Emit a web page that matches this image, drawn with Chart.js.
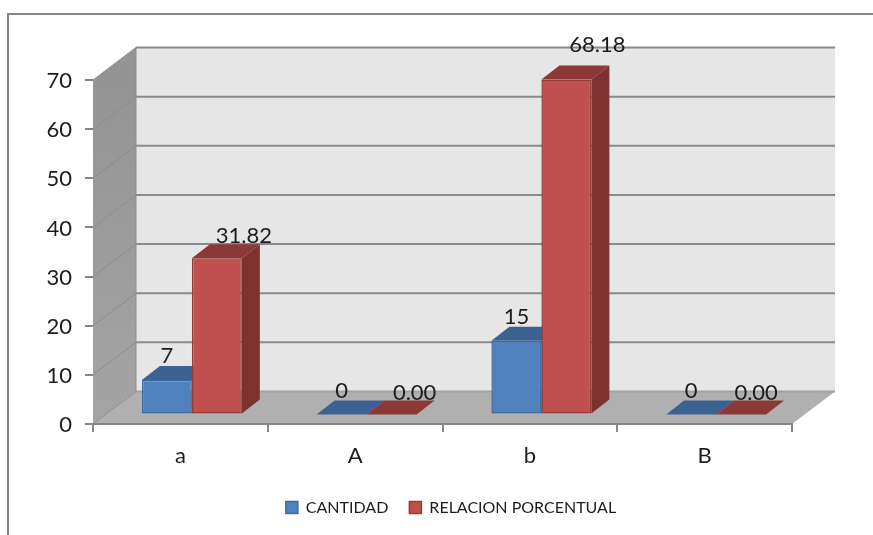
<!DOCTYPE html>
<html>
<head>
<meta charset="utf-8">
<title>Cantidad y relacion porcentual</title>
<script src="https://cdn.jsdelivr.net/npm/chart.js@4"></script>
<style>
  html, body { margin: 0; padding: 0; background: #fff; }
  canvas { display: block; }
</style>
</head>
<body>
<canvas id="chart" width="873" height="535"></canvas>
<script>
const categories = ['a', 'A', 'b', 'B'];
const cantidad = [7, 0, 15, 0];
const relacionPorcentual = [31.82, 0, 68.18, 0];
const yTicks = [0, 10, 20, 30, 40, 50, 60, 70];

const FONT = 'Lato, sans-serif';
const TEXT = '#1c1c1c';
const LINE = '#8a8a8a';

// depth of the box the bars stand in, and of the bars themselves
const WALL_DX = 43, WALL_DY = -32.5;
const BAR_SHIFT_X = 11.5, BAR_SHIFT_Y = -9.5;
const BAR_DX = 18, BAR_DY = -14;

const faces = [
  { top: '#3c6291', side: '#3a5f8e' },
  { top: '#8c3836', side: '#7d3230' }
];

// where each dataset's value text sits relative to the bar's top
const labelOffsets = [
  { dx: [0, 0, 0, 0], dy: [-24, -24, -24, -24], fmt: v => String(v) },
  { dx: [27, 23, 31, 15], dy: [-22, -22, -35, -22], fmt: v => v.toFixed(2) }
];

function poly(ctx, pts, fill) {
  ctx.beginPath();
  pts.forEach((p, i) => i ? ctx.lineTo(p[0], p[1]) : ctx.moveTo(p[0], p[1]));
  ctx.closePath();
  ctx.fillStyle = fill;
  ctx.fill();
}

function seg(ctx, x1, y1, x2, y2, color, width) {
  ctx.beginPath();
  ctx.moveTo(x1, y1);
  ctx.lineTo(x2, y2);
  ctx.strokeStyle = color;
  ctx.lineWidth = width;
  ctx.stroke();
}

const box3d = {
  id: 'box3d',
  afterLayout(chart) {
    // legend row is centred on its own spot under the axis labels
    const lg = chart.legend;
    const shift = 451 - (lg.left + lg.right) / 2;
    lg.left += shift;
    lg.right += shift;
    const h = lg.bottom - lg.top;
    lg.top = 502 - h / 2;
    lg.bottom = lg.top + h;
  },
  beforeDraw(chart) {
    const ctx = chart.ctx;
    const { x, y } = chart.scales;
    const l = x.left, r = x.right;
    const y0 = y.getPixelForValue(0), yMax = y.getPixelForValue(70);

    ctx.save();
    // outer frame, open on the right and bottom
    seg(ctx, 8, 14, 873, 14, '#868686', 2);
    seg(ctx, 8, 13, 8, 535, '#868686', 2);

    const grad = ctx.createLinearGradient(0, yMax, 0, y0);
    grad.addColorStop(0, '#949494');
    grad.addColorStop(1, '#a4a4a4');
    poly(ctx, [[l, yMax], [l + WALL_DX, yMax + WALL_DY], [l + WALL_DX, y0 + WALL_DY], [l, y0]], grad);
    poly(ctx, [[l + WALL_DX, yMax + WALL_DY], [r + WALL_DX, yMax + WALL_DY], [r + WALL_DX, y0 + WALL_DY], [l + WALL_DX, y0 + WALL_DY]], '#e6e6e6');
    poly(ctx, [[l, y0], [r, y0], [r + WALL_DX, y0 + WALL_DY], [l + WALL_DX, y0 + WALL_DY]], '#b0b0b0');

    yTicks.forEach(v => {
      const py = y.getPixelForValue(v);
      seg(ctx, l, py, l + WALL_DX, py + WALL_DY, '#8c8c8c', 1);
      if (v > 0) seg(ctx, l + WALL_DX, py + WALL_DY, r + WALL_DX, py + WALL_DY, LINE, 2);
    });
    seg(ctx, l + WALL_DX, y0 + WALL_DY, r + WALL_DX, y0 + WALL_DY, '#a2a2a2', 2);
    seg(ctx, l + WALL_DX, yMax + WALL_DY, l + WALL_DX, y0 + WALL_DY, '#8c8c8c', 1);
    ctx.restore();
  },
  beforeDatasetsDraw(chart) {
    // tops and sides go down first so the bar fronts cover them
    const ctx = chart.ctx;
    chart.data.datasets.forEach((ds, i) => {
      chart.getDatasetMeta(i).data.forEach(bar => {
        const p = bar.getProps(['x', 'y', 'base', 'width']);
        const x1 = p.x - p.width / 2 + BAR_SHIFT_X, x2 = x1 + p.width;
        const top = p.y + BAR_SHIFT_Y, base = p.base + BAR_SHIFT_Y;
        poly(ctx, [[x1, top], [x2, top], [x2 + BAR_DX, top + BAR_DY], [x1 + BAR_DX, top + BAR_DY]], faces[i].top);
        if (base - top > 0) {
          poly(ctx, [[x2, top], [x2 + BAR_DX, top + BAR_DY], [x2 + BAR_DX, base + BAR_DY], [x2, base]], faces[i].side);
        }
      });
    });
  },
  beforeDatasetDraw(chart) {
    chart.ctx.save();
    chart.ctx.translate(BAR_SHIFT_X, BAR_SHIFT_Y);
  },
  afterDatasetDraw(chart) {
    chart.ctx.restore();
  },
  afterDatasetsDraw(chart) {
    const ctx = chart.ctx;
    ctx.save();
    ctx.font = '22px ' + FONT;
    ctx.fillStyle = TEXT;
    ctx.textAlign = 'center';
    ctx.textBaseline = 'middle';
    chart.data.datasets.forEach((ds, i) => {
      const off = labelOffsets[i];
      chart.getDatasetMeta(i).data.forEach((bar, j) => {
        const p = bar.getProps(['x', 'y']);
        ctx.fillText(off.fmt(ds.data[j]), p.x + BAR_SHIFT_X + off.dx[j], p.y + BAR_SHIFT_Y + off.dy[j]);
      });
    });
    ctx.restore();
  }
};

new Chart(document.getElementById('chart'), {
  type: 'bar',
  data: {
    labels: categories,
    datasets: [
      { label: 'CANTIDAD', data: cantidad, backgroundColor: '#4f81bd', borderColor: '#3f6a9f', borderWidth: 1.5, borderSkipped: false },
      { label: 'RELACION PORCENTUAL', data: relacionPorcentual, backgroundColor: '#c0504d', borderColor: '#933c3a', borderWidth: 1.5, borderSkipped: false }
    ]
  },
  options: {
    responsive: false,
    animation: false,
    layout: { padding: { left: 0, right: 81, top: 80, bottom: 0 } },
    datasets: { bar: { barPercentage: 1, categoryPercentage: 0.572 } },
    plugins: {
      title: { display: false },
      tooltip: { enabled: false },
      legend: {
        position: 'bottom',
        labels: { boxWidth: 12, boxHeight: 12, padding: 21, color: TEXT, font: { family: FONT, size: 16 } }
      }
    },
    scales: {
      x: {
        afterFit(s) { s.height = 111 - (s.chart.legend ? s.chart.legend.height : 0); },
        grid: { display: true, drawOnChartArea: false, tickLength: 8, color: '#868686', lineWidth: 2 },
        border: { display: true, color: '#868686', width: 2 },
        ticks: { color: TEXT, padding: 11, font: { family: FONT, size: 22 } }
      },
      y: {
        min: 0,
        max: 70,
        afterFit(s) { s.width = 93; },
        afterBuildTicks(s) { s.ticks = yTicks.map(v => ({ value: v })); },
        grid: { display: true, drawOnChartArea: false, tickLength: 8, color: '#868686', lineWidth: 2 },
        border: { display: false },
        ticks: { color: TEXT, padding: 13, labelOffset: 1, font: { family: FONT, size: 22 } }
      }
    }
  },
  plugins: [box3d]
});
</script>
</body>
</html>
